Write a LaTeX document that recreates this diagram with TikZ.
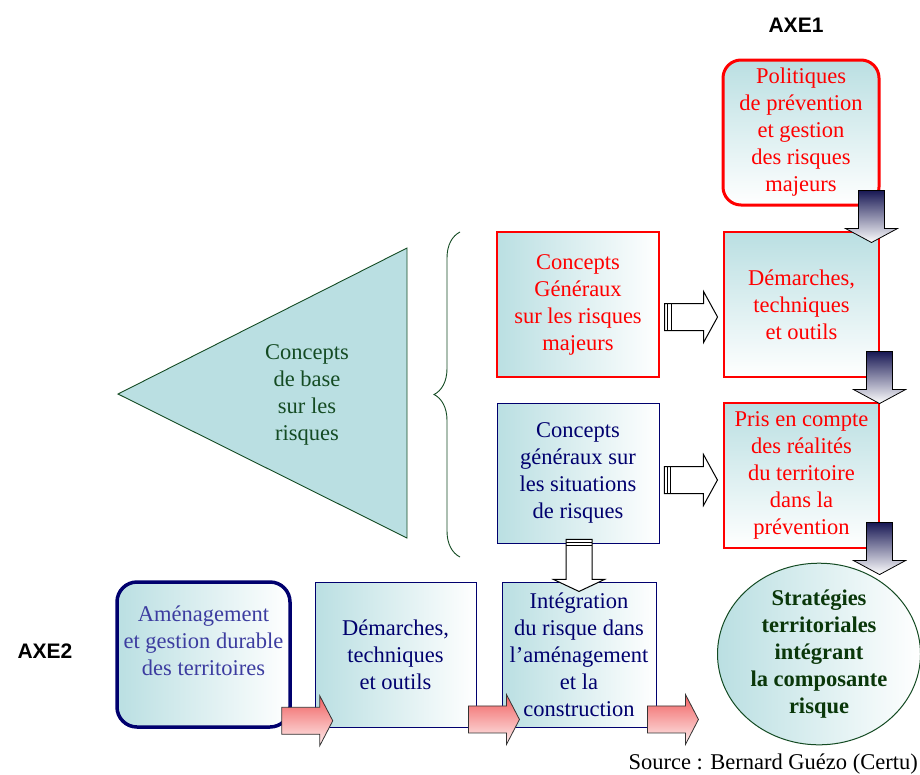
\documentclass[tikz,border=0pt]{standalone}
\usepackage{fontspec}
\setmainfont{Liberation Serif}
\newfontfamily\axefont{Liberation Sans}
\usetikzlibrary{positioning, calc, shapes.geometric, decorations.pathreplacing}
\usepackage{xcolor}
\definecolor{tealbg}{RGB}{186,223,226}
\definecolor{marine}{RGB}{0,0,110}
\definecolor{amenblue}{RGB}{60,60,160}
\definecolor{vert}{RGB}{20,75,35}
\definecolor{vertf}{RGB}{10,55,10}
\definecolor{nuit}{RGB}{25,25,85}
\definecolor{saumon}{RGB}{240,95,95}

\newcommand{\darkdown}[1]{%
  \draw[darkarr] (#1) ++(-13,0) -- ++(26,0) -- ++(0,38) -- ++(13,0)
    -- ++(-26,14) -- ++(-26,-14) -- ++(13,0) -- cycle;}
\newcommand{\hollowright}[1]{%
  \draw[hollowarr] (#1) ++(0,-13.5) -- ++(39,0) -- ++(0,-12) -- ++(14,25.5)
    -- ++(-14,25.5) -- ++(0,-12) -- ++(-39,0) -- cycle;
  \foreach \s in {3,6.5} \draw[hollowarr] (#1) ++(\s,-13.5) -- ++(0,27);}
\newcommand{\hollowdown}[1]{%
  \draw[hollowarr] (#1) ++(-13,0) -- ++(26,0) -- ++(0,40) -- ++(12.5,0)
    -- ++(-25.5,12) -- ++(-25.5,-12) -- ++(12.5,0) -- cycle;
  \foreach \s in {3,6} \draw[hollowarr] (#1) ++(-13,\s) -- ++(26,0);}
\newcommand{\redright}[1]{%
  \draw[redarr] (#1) ++(0,-13.5) -- ++(38,0) -- ++(0,-11.5) -- ++(13,25)
    -- ++(-13,25) -- ++(0,-11.5) -- ++(-38,0) -- cycle;}

\begin{document}
\begin{tikzpicture}[x=1pt, y=-1pt,
  txt/.style={font=\fontsize{22.5}{27}\selectfont, align=center, inner sep=0pt},
  box/.style={txt, minimum width=155pt, minimum height=145pt},
  hshade/.style={left color=tealbg, right color=white},
  vshade/.style={top color=tealbg, bottom color=white},
  boxr/.style={box, draw=red, line width=1.1pt, text=red},
  boxb/.style={box, draw=marine, line width=0.9pt, text=marine},
  axe/.style={font=\axefont\bfseries\fontsize{21}{25}\selectfont, inner sep=0pt},
  darkarr/.style={draw=black, line width=0.8pt, top color=nuit, bottom color=white},
  hollowarr/.style={draw=black, line width=1pt, fill=white},
  redarr/.style={draw=black!80, line width=0.8pt, top color=saumon, bottom color=red!6}
]
\useasboundingbox (0,0) rectangle (920,774);

\node[axe] (axe1) at (796,25)  {AXE1};
\node[axe] (axe2) at (45,651)  {AXE2};

\filldraw[fill=tealbg, draw=vert, line width=0.9pt]
  (118,394) -- (407,248) -- (407,538) -- cycle;
\node[txt, text=vert] (base) at (307,395) {Concepts\\de base\\sur les\\risques};
\draw[decorate, decoration={brace, amplitude=26pt}, vert, line width=0.9pt]
  (460,557) -- (460,232);

\node[boxr, vshade, rounded corners=18pt, line width=3pt, minimum width=156pt]
  (polit) at (801,132.5) {Politiques\\de prévention\\et gestion\\des risques\\majeurs};
\node[boxr, vshade] (dem1) at (801.5,304.5) {Démarches,\\techniques\\et outils};
\node[boxr, vshade] (pris) at (801.5,475.5)
  {Pris en compte\\des réalités\\du territoire\\dans la\\prévention};
\node[boxr, hshade, minimum width=162pt] (cgen) at (578,304.5)
  {Concepts\\Généraux\\sur les risques\\majeurs};
\node[boxb, hshade, minimum width=162pt, minimum height=140pt] (csit) at (578,473)
  {Concepts\\généraux sur\\les situations\\de risques};
\node[boxb, hshade, minimum width=154pt] (integ) at (579,654.5)
  {Intégration\\du risque dans\\l’aménagement\\et la\\construction};
\node[boxb, hshade, minimum width=161pt] (dem2) at (395.5,654.5)
  {Démarches,\\techniques\\et outils};
\node[box, hshade, draw=marine, line width=3.5pt, rounded corners=20pt,
  minimum width=173pt] (amen) at (203.5,654.5) {};
\node[txt, text=amenblue] (amentxt) at (203.5,641)
  {Aménagement\\et gestion durable\\des territoires};
\node[ellipse, txt, hshade, draw=vert, line width=1pt, minimum width=203pt,
  minimum height=178pt, text=vertf, font=\fontsize{22.5}{27}\selectfont\bfseries]
  (strat) at (819,654) {Stratégies\\territoriales\\intégrant\\la composante\\risque};

\darkdown{$(polit.south east)+(-9,-16)$}
\darkdown{$(dem1.south east)+(0,-26)$}
\darkdown{$(pris.south east)+(0,-26)$}
\hollowright{$(cgen.east)+(5,12.5)$}
\hollowright{$(csit.east)+(5,7)$}
\hollowdown{$(csit.south)+(1,-4)$}
\redright{$(amen.south east)+(-10,-8)$}
\redright{$(dem2.south east)+(-8,-8)$}
\redright{$(integ.south east)+(-9,-8)$}

\node[txt, anchor=base east] (src) at (918,769) {Source : Bernard Guézo (Certu)};
\end{tikzpicture}
\end{document}
